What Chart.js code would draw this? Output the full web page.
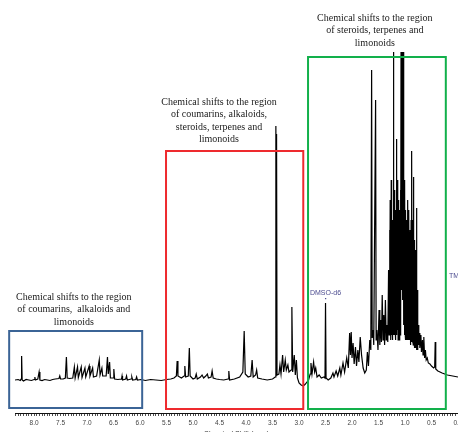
<!DOCTYPE html>
<html>
<head>
<meta charset="utf-8">
<script src="https://cdn.jsdelivr.net/npm/chart.js@4.4.1/dist/chart.umd.min.js"></script>
<style>
  html, body { margin: 0; padding: 0; background: #fff; }
  canvas { display: block; }
</style>
</head>
<body>
<canvas id="nmrChart" width="458" height="432"></canvas>
<script>
// 1H NMR spectrum: chemical shift (ppm) and signal height
const shiftPpm = [
  8.36, 8.3, 8.26, 8.245, 8.235, 8.225, 8.2, 8.15, 8.1, 8.05, 8.0, 7.985, 7.975, 7.93, 7.905, 7.89,
  7.85, 7.8, 7.75, 7.7, 7.65, 7.6, 7.53, 7.515, 7.5, 7.45, 7.41, 7.39, 7.375, 7.33, 7.27, 7.24,
  7.225, 7.18, 7.165, 7.11, 7.095, 7.04, 7.025, 6.96, 6.945, 6.895, 6.88, 6.82, 6.77, 6.755, 6.72, 6.705,
  6.64, 6.615, 6.6, 6.575, 6.56, 6.51, 6.495, 6.48, 6.42, 6.35, 6.34, 6.33, 6.27, 6.255, 6.24, 6.17,
  6.155, 6.14, 6.08, 6.065, 6.05, 5.98, 5.9, 5.8, 5.7, 5.6, 5.5, 5.42, 5.36, 5.315, 5.3, 5.285,
  5.22, 5.17, 5.155, 5.14, 5.09, 5.07, 5.055, 5.0, 4.96, 4.94, 4.92, 4.86, 4.83, 4.8, 4.76, 4.73,
  4.71, 4.66, 4.64, 4.62, 4.56, 4.5, 4.42, 4.34, 4.325, 4.31, 4.22, 4.12, 4.06, 4.035, 4.015, 3.96,
  3.91, 3.885, 3.865, 3.82, 3.8, 3.78, 3.7, 3.6, 3.5, 3.45, 3.437, 3.43, 3.424, 3.415, 3.38, 3.36,
  3.34, 3.31, 3.29, 3.26, 3.24, 3.21, 3.19, 3.15, 3.135, 3.12, 3.09, 3.07, 3.05, 3.03, 3.0, 2.96,
  2.92, 2.88, 2.85, 2.82, 2.79, 2.775, 2.755, 2.725, 2.705, 2.685, 2.66, 2.62, 2.58, 2.53, 2.51, 2.5,
  2.49, 2.45, 2.4, 2.36, 2.34, 2.3, 2.27, 2.23, 2.21, 2.17, 2.14, 2.1, 2.07, 2.045, 2.03, 2.015,
  2.0, 1.98, 1.96, 1.935, 1.915, 1.89, 1.87, 1.845, 1.82, 1.79, 1.76, 1.73, 1.71, 1.69, 1.665, 1.645,
  1.63, 1.62, 1.6, 1.59, 1.555, 1.545, 1.53, 1.51, 1.49, 1.475, 1.46, 1.445, 1.43, 1.415, 1.4, 1.385,
  1.37, 1.355, 1.34, 1.325, 1.31, 1.3, 1.29, 1.285, 1.28, 1.275, 1.27, 1.265, 1.26, 1.255, 1.25, 1.245,
  1.24, 1.235, 1.23, 1.225, 1.22, 1.215, 1.21, 1.205, 1.2, 1.195, 1.19, 1.185, 1.18, 1.175, 1.17, 1.165,
  1.158, 1.152, 1.145, 1.14, 1.135, 1.13, 1.125, 1.12, 1.115, 1.11, 1.105, 1.1, 1.095, 1.09, 1.085, 1.08,
  1.075, 1.07, 1.065, 1.06, 1.055, 1.05, 1.045, 1.04, 1.035, 1.03, 1.025, 1.02, 1.015, 1.01, 1.005, 1.0,
  0.995, 0.99, 0.985, 0.98, 0.975, 0.97, 0.965, 0.96, 0.955, 0.95, 0.945, 0.94, 0.935, 0.93, 0.925, 0.92,
  0.915, 0.91, 0.905, 0.9, 0.895, 0.89, 0.885, 0.88, 0.875, 0.87, 0.865, 0.86, 0.855, 0.85, 0.845, 0.84,
  0.835, 0.83, 0.825, 0.82, 0.815, 0.81, 0.805, 0.8, 0.795, 0.79, 0.785, 0.78, 0.775, 0.77, 0.765, 0.76,
  0.755, 0.75, 0.74, 0.73, 0.72, 0.7, 0.69, 0.67, 0.66, 0.645, 0.63, 0.615, 0.6, 0.58, 0.56, 0.53,
  0.5, 0.46, 0.44, 0.43, 0.42, 0.38, 0.34, 0.3, 0.25, 0.2, 0.1, 0.0
];
const signal = [
  0, 0.5, -0.5, 1, 24, 0, -1, 0.5, 0, -0.5, 0.5, 3, 0, 1, 8, 0,
  -0.5, 0.5, 0, -0.5, 0.5, 1, 1.5, 4, 1, 1, 2, 23, 2, 1.5, 2, 13,
  2, 13, 2.5, 13, 2.5, 12, 3, 14, 4, 12, 3, 4, 20, 5, 12, 4,
  4, 23, 6, 18, 2, 2, 11, 1, 0.5, 1, 4, 0, 1, 4, 0, 1,
  3, 0, 0.5, 3, 0, 0.5, -0.5, 0.5, 0, -0.5, 0.5, 1, 2, 4, 19, 4,
  2, 4, 14, 3, 4, 32, 4, 1, 2, 6, 1, 3, 5, 2, 4, 6,
  2, 3, 9, 2, 1, 0.5, 0, 1, 9, 0, 1, 3, 8, 49, 6, 3,
  4, 20, 3, 5, 10, 2, 1, 0, 1, 3, 254, 40, 246, 5, 6, 15,
  6, 25, 8, 20, 10, 15, 8, 10, 73, 8, 25, 5, 20, 2, -3, -5,
  -6, -4, -2, 0, 6, 17, 6, 18, 8, 12, 3, 5, 2, 3, 2, 77,
  2, 0, 2, 7, 3, 9, 4, 12, 5, 17, 8, 22, 12, 47, 25, 48,
  22, 37, 16, 33, 14, 30, 18, 43, 25, 12, 7, 10, 28, 14, 40, 30,
  310, 42, 50, 35, 280, 40, 50, 30, 70, 35, 60, 38, 85, 40, 65, 35,
  80, 40, 55, 38, 110, 45, 150, 45, 180, 40, 140, 50, 200, 45, 120, 55,
  160, 40, 130, 50, 335, 45, 150, 55, 190, 45, 130, 50, 170, 40, 140, 55,
  241, 45, 200, 50, 150, 40, 180, 55, 140, 40, 170, 50, 130, 45, 190, 50,
  335, 90, 335, 100, 335, 90, 335, 80, 335, 60, 220, 55, 180, 45, 200, 50,
  150, 40, 170, 45, 130, 40, 160, 50, 120, 40, 180, 45, 140, 40, 170, 45,
  120, 40, 150, 35, 130, 40, 160, 38, 140, 229, 40, 120, 38, 160, 35, 203,
  35, 110, 35, 140, 32, 100, 35, 130, 32, 110, 32, 172, 30, 90, 30, 70,
  38, 55, 35, 47, 32, 45, 28, 40, 25, 43, 22, 30, 20, 22, 17, 16,
  14, 12, 13, 38, 11, 9, 8, 7, 6, 5, 4, 3
];
// labelled ticks on the shift axis
const majorTicks = [8.0, 7.5, 7.0, 6.5, 6.0, 5.5, 5.0, 4.5, 4.0, 3.5, 3.0, 2.5, 2.0, 1.5, 1.0, 0.5, 0.0];

// highlighted regions (ppm range, signal range) and their notes
const regionBoxes = [
  { from: 8.47, to: 5.96, top: 49, bottom: -28, color: '#3b6496' },
  { from: 5.51, to: 2.92, top: 229, bottom: -29, color: '#ee2a2e' },
  { from: 2.83, to: 0.23, top: 323, bottom: -29, color: '#12b04b' }
];
const regionNotes = [
  { ppm: 7.25, at: 83, lines: ['Chemical shifts to the region', 'of coumarins,  alkaloids and', 'limonoids'] },
  { ppm: 4.51, at: 278, lines: ['Chemical shifts to the region', 'of coumarins, alkaloids,', 'steroids, terpenes and', 'limonoids'] },
  { ppm: 1.57, at: 362, lines: ['Chemical shifts to the region', 'of steroids, terpenes and', 'limonoids'] }
];

const notesPlugin = {
  id: 'regionNotes',
  afterDatasetsDraw(chart) {
    const { ctx, scales: { x, y } } = chart;
    ctx.save();
    regionBoxes.forEach(b => {
      const x1 = x.getPixelForValue(b.from), x2 = x.getPixelForValue(b.to);
      const y1 = y.getPixelForValue(b.top), y2 = y.getPixelForValue(b.bottom);
      ctx.strokeStyle = b.color;
      ctx.lineWidth = 2;
      ctx.strokeRect(x1, y1, x2 - x1, y2 - y1);
    });
    ctx.fillStyle = '#1a1a1a';
    ctx.font = '10px "Liberation Serif", "Times New Roman", serif';
    ctx.textAlign = 'center';
    ctx.textBaseline = 'middle';
    regionNotes.forEach(n => {
      const cx = x.getPixelForValue(n.ppm);
      n.lines.forEach((t, i) => ctx.fillText(t, cx, y.getPixelForValue(n.at) + i * 12.5));
    });
    // solvent and reference labels
    ctx.fillStyle = '#4b4b8f';
    ctx.font = '7px "Liberation Sans", Arial, sans-serif';
    ctx.fillText('DMSO-d6', x.getPixelForValue(2.5), y.getPixelForValue(87));
    ctx.fillRect(x.getPixelForValue(2.5) - 0.5, y.getPixelForValue(82), 1.2, 1.2);
    ctx.textAlign = 'left';
    ctx.fillText('TMS', x.getPixelForValue(0.17), y.getPixelForValue(104));
    ctx.restore();
  }
};

new Chart(document.getElementById('nmrChart'), {
  type: 'line',
  data: {
    datasets: [{
      data: shiftPpm.map((p, i) => ({ x: p, y: signal[i] })),
      borderColor: '#000',
      borderWidth: 1.2,
      pointRadius: 0,
      tension: 0,
      fill: false
    }]
  },
  options: {
    responsive: false,
    animation: false,
    devicePixelRatio: 1,
    layout: { padding: { top: 52, left: 15, right: 0, bottom: 0 } },
    plugins: { legend: { display: false }, tooltip: { enabled: false } },
    scales: {
      x: {
        type: 'linear',
        reverse: true,
        min: 0,
        max: 8.36,
        afterFit(scale) { scale.height = 19; scale.paddingLeft = 0; scale.paddingRight = 0; },
        grid: { drawOnChartArea: false, drawTicks: true, tickLength: 3, color: '#222', lineWidth: 0.8 },
        border: { display: true, color: '#111', width: 1 },
        ticks: {
          stepSize: 0.05,
          autoSkip: false,
          maxRotation: 0,
          minRotation: 0,
          padding: 3,
          color: '#444',
          font: { family: '"Liberation Sans", Arial, sans-serif', size: 6.5 },
          callback: (v) => majorTicks.includes(Math.round(v * 100) / 100) ? v.toFixed(1) : ''
        },
        title: {
          display: true,
          text: 'Chemical Shift (ppm)',
          color: '#333',
          font: { family: '"Liberation Sans", Arial, sans-serif', size: 7 },
          padding: { top: 0, bottom: -6 }
        }
      },
      y: { display: false, min: -33, max: 328 }
    }
  },
  plugins: [notesPlugin]
});
</script>
</body>
</html>
